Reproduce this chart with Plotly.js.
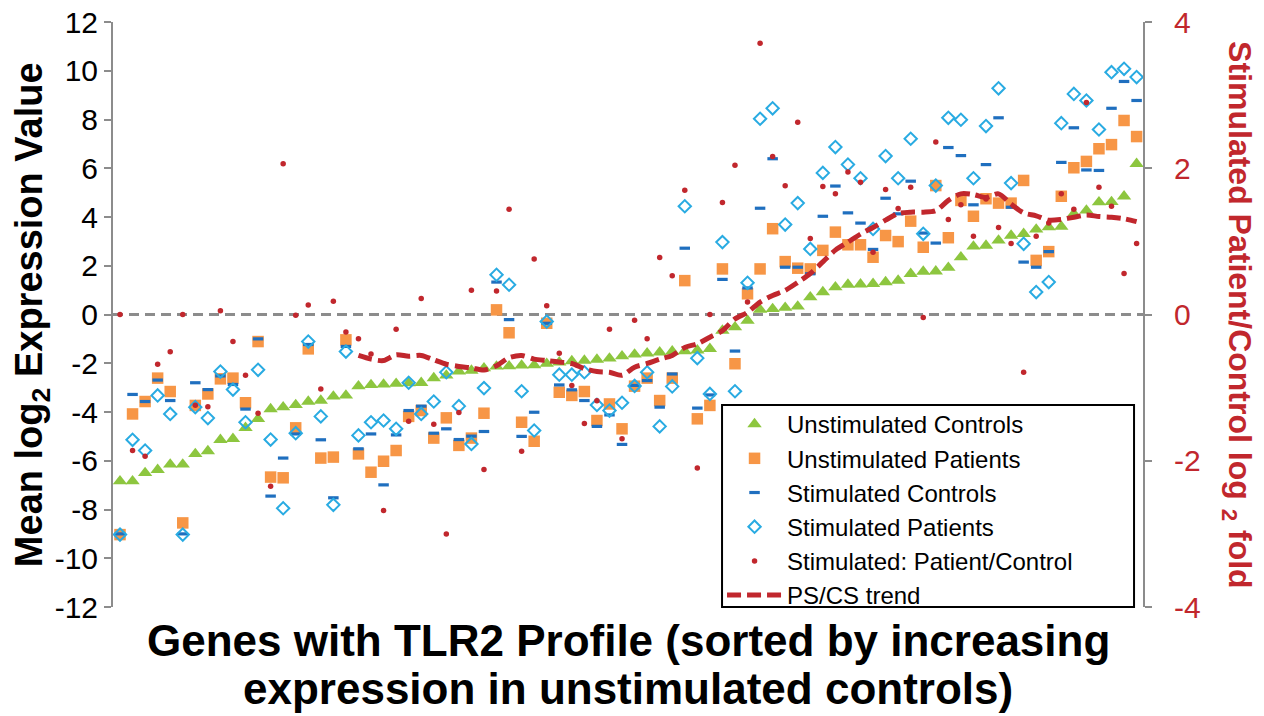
<!DOCTYPE html>
<html>
<head>
<meta charset="utf-8">
<script src="https://cdn.plot.ly/plotly-3.0.1.min.js"></script>
<style>
  html, body { margin: 0; padding: 0; background: #fff; }
  #chart { width: 1264px; height: 716px; }
</style>
</head>
<body>
<div id="chart"></div>
<script>
// Mean log2 expression per gene, genes ordered by unstimulated-control expression
const unstimControls = [
  -6.84, -6.84, -6.5, -6.37, -6.15, -6.15, -5.72, -5.6, -5.14, -5.1,
  -4.65, -4.28, -3.88, -3.8, -3.71, -3.57, -3.53, -3.36, -3.32, -2.94,
  -2.89, -2.87, -2.84, -2.82, -2.8, -2.61, -2.5, -2.33, -2.3, -2.2,
  -2.13, -2.12, -2.09, -2.08, -2.02, -1.96, -1.91, -1.89, -1.85, -1.8,
  -1.71, -1.64, -1.59, -1.55, -1.51, -1.5, -1.47, -1.41, -0.66, -0.52,
  -0.25, 0.2, 0.23, 0.28, 0.33, 0.71, 0.92, 1.12, 1.23, 1.24,
  1.26, 1.33, 1.39, 1.67, 1.76, 1.77, 1.92, 2.35, 2.79, 2.83,
  3.04, 3.24, 3.31, 3.49, 3.58, 3.61, 4.13, 4.27, 4.61, 4.62,
  4.85, 6.18
];

const unstimPatients = [
  -9.03, -4.08, -3.57, -2.61, -3.16, -8.55, -3.73, -3.26, -2.64, -2.61,
  -3.62, -1.11, -6.67, -6.7, -4.65, -1.41, -5.89, -5.85, -1.04, -5.72,
  -6.47, -6.02, -5.58, -4.18, -3.94, -5.07, -4.24, -5.37, -5.07, -4.05,
  0.19, -0.75, -4.42, -5.2, -0.36, -3.19, -3.32, -3.16, -4.35, -3.67,
  -4.69, -2.94, -2.61, -3.53, -2.61, 1.39, -4.28, -3.73, 1.87, -2.02,
  0.85, 1.87, 3.52, 2.17, 1.9, 1.87, 2.63, 3.38, 2.86, 2.86,
  2.35, 3.24, 2.99, 3.83, 2.76, 5.29, 3.15, 4.68, 4.03, 4.75,
  4.57, 4.57, 5.5, 2.22, 2.58, 4.85, 6.02, 6.28, 6.8, 6.97,
  7.96, 7.3
];

const stimControls = [
  -9.0, -3.28, -3.57, -2.69, -3.53, -9.0, -2.8, -3.08, -2.52, -2.87,
  -3.88, -1.0, -7.45, -5.89, -4.9, -1.23, -5.14, -7.52, -1.31, -5.51,
  -4.9, -6.99, -4.94, -3.94, -3.76, -4.87, -4.69, -5.13, -4.99, -4.8,
  1.33, -0.21, -5.0, -4.01, -0.36, -2.89, -3.09, -3.53, -4.59, -4.12,
  -5.33, -2.91, -2.71, -3.8, -2.44, 2.72, -3.84, -3.3, 1.44, -1.5,
  1.09, 4.36, 6.39, 1.94, 1.94, 1.67, 4.03, 5.27, 4.17, 3.75,
  2.67, 4.77, 4.13, 5.47, 3.34, 2.93, 6.85, 6.52, 4.5, 6.15,
  8.07, 4.4, 2.15, 1.94, 2.58, 6.24, 7.66, 5.93, 5.91, 8.46,
  9.56, 8.78
];

const stimPatients = [
  -9.03, -5.14, -5.58, -3.32, -4.08, -9.03, -3.8, -4.25, -2.34, -3.08,
  -4.42, -2.27, -5.13, -7.95, -4.87, -1.11, -4.18, -7.81, -1.52, -4.96,
  -4.42, -4.35, -4.69, -2.8, -4.08, -3.57, -2.37, -3.76, -5.31, -3.02,
  1.63, 1.22, -3.15, -4.76, -0.29, -2.47, -2.47, -2.37, -3.71, -3.94,
  -3.62, -2.93, -2.37, -4.59, -2.95, 4.44, -1.79, -3.26, 2.97, -3.15,
  1.3, 8.03, 8.46, 3.69, 4.57, 2.69, 5.81, 6.87, 6.15, 5.59,
  3.51, 6.5, 5.59, 7.21, 3.31, 5.29, 8.07, 7.99, 5.59, 7.73,
  9.28, 5.39, 2.9, 0.92, 1.33, 7.85, 9.05, 8.78, 7.59, 9.94,
  10.08, 9.74
];

// Stimulated patient / control, log2 fold (right axis)
const stimRatio = [
  0.0, -1.86, -1.94, -0.68, -0.51, 0.0, -1.24, -1.26, 0.05, -0.37,
  -0.83, -1.35, -2.35, 2.06, -0.01, 0.13, -1.02, 0.18, -0.24, -0.33,
  -0.54, -2.68, -0.2, -1.46, 0.22, -1.5, -3.0, -1.34, 0.33, -2.12,
  0.32, 1.44, -1.87, 0.76, 0.12, -0.53, -0.97, -1.49, -1.18, -0.2,
  -1.7, -0.08, -0.33, 0.78, 0.53, 1.7, -2.1, 0.0, 1.53, 2.04,
  0.17, 3.71, 2.16, 1.76, 2.63, 1.04, 1.75, 1.65, 1.95, 1.81,
  0.85, 1.71, 1.45, 1.74, -0.04, 2.36, 1.3, 1.5, 1.07, 1.58,
  1.19, 0.97, -0.79, 1.07, 1.25, 1.65, 1.44, 2.9, 1.74, 1.48,
  0.56, 0.97
];

// Moving trend of the patient/control ratio (starts at gene 20)
const ratioTrend = [
  null, null, null, null, null, null, null, null, null, null,
  null, null, null, null, null, null, null, null, null, -0.56,
  -0.61, -0.63, -0.55, -0.57, -0.56, -0.62, -0.68, -0.71, -0.73, -0.76,
  -0.7, -0.59, -0.56, -0.61, -0.63, -0.65, -0.67, -0.74, -0.78, -0.79,
  -0.83, -0.72, -0.67, -0.61, -0.56, -0.45, -0.4, -0.31, -0.22, -0.06,
  0.03, 0.17, 0.26, 0.33, 0.44, 0.56, 0.72, 0.88, 0.99, 1.1,
  1.19, 1.29, 1.38, 1.4, 1.4, 1.42, 1.56, 1.65, 1.64, 1.6,
  1.65, 1.51, 1.39, 1.35, 1.29, 1.3, 1.33, 1.36, 1.34, 1.33,
  1.31, 1.27
];

const leftTicks = [-12, -10, -8, -6, -4, -2, 0, 2, 4, 6, 8, 10, 12];
const rightTicks = [-4, -2, 0, 2, 4];

const geneRank = unstimControls.map((_, i) => i + 1);

const FONT = 'Liberation Sans, Arial, sans-serif';
const RED = '#c1272d';
const AXIS_GREY = '#8c8c8c';

const traces = [
  {
    name: 'Unstimulated Controls', x: geneRank, y: unstimControls,
    type: 'scatter', mode: 'markers', cliponaxis: false,
    marker: { symbol: 'triangle-up', size: 12.5, color: '#8dc63f' }
  },
  {
    name: 'Unstimulated Patients', x: geneRank, y: unstimPatients,
    type: 'scatter', mode: 'markers', cliponaxis: false,
    marker: { symbol: 'square', size: 11.5, color: '#f79646' }
  },
  {
    name: 'Stimulated Controls', x: geneRank, y: stimControls,
    type: 'scatter', mode: 'markers', cliponaxis: false,
    marker: { symbol: 'line-ew', size: 7.5, line: { color: '#1f6fbf', width: 3.2 } }
  },
  {
    name: 'Stimulated Patients', x: geneRank, y: stimPatients,
    type: 'scatter', mode: 'markers', cliponaxis: false,
    marker: { symbol: 'diamond-open', size: 9.5, color: '#29abe2', line: { color: '#29abe2', width: 2 } }
  },
  {
    name: 'Stimulated: Patient/Control', x: geneRank, y: stimRatio, yaxis: 'y2',
    type: 'scatter', mode: 'markers', cliponaxis: false,
    marker: { symbol: 'circle', size: 5.5, color: RED }
  },
  {
    name: 'PS/CS trend', x: geneRank, y: ratioTrend, yaxis: 'y2',
    type: 'scatter', mode: 'lines', connectgaps: false,
    line: { color: RED, width: 5, dash: '14px,6px', shape: 'spline', smoothing: 0.8 }
  }
];

const axisCommon = {
  ticks: 'outside', ticklen: 7, tickwidth: 2, tickcolor: AXIS_GREY,
  showline: true, linecolor: AXIS_GREY, linewidth: 2,
  showgrid: false, zeroline: false, tickmode: 'array'
};

const layout = {
  width: 1264, height: 716,
  margin: { l: 113, r: 121, t: 22, b: 109 },
  paper_bgcolor: '#fff', plot_bgcolor: '#fff',
  font: { family: FONT, color: '#000' },
  showlegend: true,
  xaxis: {
    range: [0.442, 82.51], showticklabels: false, ticks: '', showline: false,
    showgrid: false, zeroline: false
  },
  yaxis: Object.assign({}, axisCommon, {
    range: [-12, 12], tickvals: leftTicks, ticktext: leftTicks.map(String),
    tickfont: { family: FONT, size: 30, color: '#000' }
  }),
  yaxis2: Object.assign({}, axisCommon, {
    overlaying: 'y', side: 'right', range: [-4, 4],
    tickvals: rightTicks, ticktext: rightTicks.map(String),
    tickfont: { family: FONT, size: 30, color: RED },
    ticklabelstandoff: 16
  }),
  legend: {
    x: 0.5913, y: 0.3504, xanchor: 'left', yanchor: 'top',
    bgcolor: 'rgba(0,0,0,0)', borderwidth: 0, itemwidth: 55,
    font: { family: FONT, size: 24, color: '#000' }
  },
  shapes: [
    {
      type: 'line', xref: 'paper', x0: 0, x1: 1, yref: 'y', y0: 0, y1: 0,
      line: { color: AXIS_GREY, width: 3, dash: '10px,6px' }, layer: 'below'
    },
    {
      type: 'rect', xref: 'paper', yref: 'paper',
      x0: 0.5913, x1: 0.9913, y0: 0, y1: 0.3453,
      line: { color: '#000', width: 2 }, fillcolor: '#fff', layer: 'above'
    }
  ],
  annotations: [
    {
      text: '<b>Mean log<sub>2</sub> Expression Value</b>',
      xref: 'paper', yref: 'paper', x: -0.0786, y: 0.499,
      xanchor: 'center', yanchor: 'middle', textangle: -90, showarrow: false,
      font: { family: FONT, size: 38, color: '#000' }
    },
    {
      text: '<b>Stimulated Patient/Control log <sub>2</sub> fold</b>',
      xref: 'paper', yref: 'paper', x: 1.0922, y: 0.499,
      xanchor: 'center', yanchor: 'middle', textangle: 90, showarrow: false,
      font: { family: FONT, size: 32, color: RED }
    },
    {
      text: '<b>Genes with TLR2 Profile (sorted by increasing</b>',
      xref: 'paper', yref: 'paper', x: 0.5, y: -0.058,
      xanchor: 'center', yanchor: 'middle', showarrow: false,
      font: { family: FONT, size: 44, color: '#000' }
    },
    {
      text: '<b>expression in unstimulated controls)</b>',
      xref: 'paper', yref: 'paper', x: 0.5, y: -0.139,
      xanchor: 'center', yanchor: 'middle', showarrow: false,
      font: { family: FONT, size: 44, color: '#000' }
    }
  ]
};

Plotly.newPlot('chart', traces, layout, { displayModeBar: false, staticPlot: true });
</script>
</body>
</html>
